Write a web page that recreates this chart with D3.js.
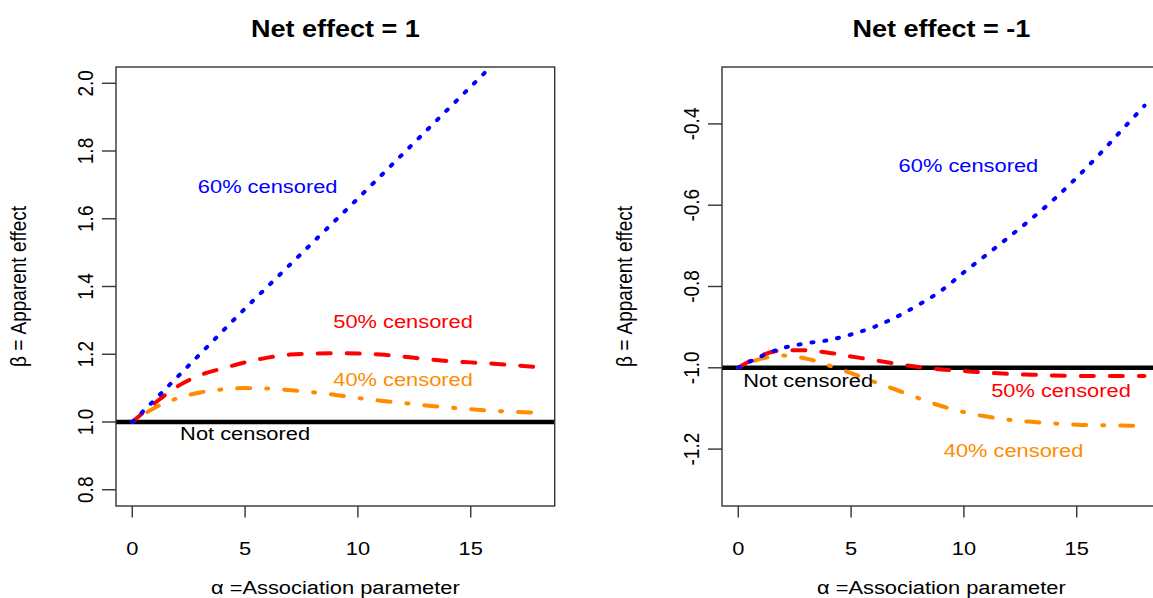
<!DOCTYPE html>
<html>
<head>
<meta charset="utf-8">
<script src="https://cdn.jsdelivr.net/npm/d3@7"></script>
<style>
  html, body { margin: 0; padding: 0; background: #fff; }
  text { font-family: "Liberation Sans", Arial, sans-serif; }
</style>
</head>
<body>
<svg id="chart" width="1153" height="598"></svg>
<script>
// Data
const alpha = [0, 1, 2, 3, 4, 5, 6, 7, 8, 9, 10, 11, 12, 13, 14, 15, 16, 17, 18];

// Net effect = 1
const pos60 = [1.0, 1.066, 1.133, 1.2, 1.268, 1.335, 1.4, 1.465, 1.53, 1.595, 1.66, 1.726, 1.792, 1.858, 1.924, 1.99, 2.056, 2.122, 2.188];
const pos50 = [1.0, 1.056, 1.105, 1.138, 1.158, 1.176, 1.19, 1.199, 1.202, 1.203, 1.202, 1.199, 1.193, 1.186, 1.18, 1.176, 1.172, 1.167, 1.162];
const pos40 = [1.0, 1.042, 1.07, 1.087, 1.096, 1.1, 1.099, 1.094, 1.088, 1.08, 1.071, 1.063, 1.056, 1.049, 1.043, 1.038, 1.033, 1.03, 1.027];

// Net effect = -1
const neg60 = [-1.0, -0.972, -0.951, -0.94, -0.932, -0.918, -0.9, -0.875, -0.845, -0.81, -0.765, -0.722, -0.678, -0.633, -0.585, -0.532, -0.475, -0.415, -0.355];
const neg50 = [-1.0, -0.97, -0.957, -0.957, -0.963, -0.972, -0.981, -0.99, -0.998, -1.004, -1.008, -1.012, -1.015, -1.017, -1.019, -1.02, -1.02, -1.02, -1.02];
const neg40 = [-1.0, -0.978, -0.97, -0.977, -0.994, -1.013, -1.034, -1.054, -1.075, -1.094, -1.109, -1.12, -1.128, -1.133, -1.137, -1.14, -1.141, -1.142, -1.143];

const xTicks = [0, 5, 10, 15];
const posTicks = [0.8, 1.0, 1.2, 1.4, 1.6, 1.8, 2.0];
const negTicks = [-1.2, -1.0, -0.8, -0.6, -0.4];

// label positions in data units [alpha, beta]
const posLabels = [
    { text: "60% censored", at: [6.0, 1.697], color: "blue" },
    { text: "50% censored", at: [12.0, 1.298], color: "red" },
    { text: "40% censored", at: [12.0, 1.125], color: "darkorange" },
    { text: "Not censored", at: [5.0, 0.966], color: "black" }
];
const negLabels = [
    { text: "60% censored", at: [10.2, -0.501], color: "blue" },
    { text: "Not censored", at: [3.1, -1.032], color: "black" },
    { text: "50% censored", at: [14.3, -1.055], color: "red" },
    { text: "40% censored", at: [12.2, -1.202], color: "darkorange" }
];

// Layout
const BOX_TOP = 67;
const BOX_BOTTOM = 506;
const BOX_WIDTH = 438.7;
const SX = 1.15;          // the source image is stretched horizontally
const FONT = 19;

const svg = d3.select("#chart");

// text helper, stretched horizontally like the source
function label(g, x, y, str, opts = {}) {
    const rot = opts.rotate || 0;
    return g.append("text")
        .attr("transform", `translate(${x},${y}) scale(${SX},1) rotate(${rot})`)
        .attr("text-anchor", opts.anchor || "middle")
        .attr("dy", opts.dy || "0.35em")
        .attr("font-size", opts.size || FONT)
        .attr("font-weight", opts.weight || "normal")
        .attr("fill", opts.color || "black")
        .text(str);
}

function drawPanel(cfg) {
    const g = svg.append("g");
    const x = d3.scaleLinear().domain([-0.72, 18.72]).range([cfg.left, cfg.left + BOX_WIDTH]);
    const span = cfg.ylim[1] - cfg.ylim[0];
    const y = d3.scaleLinear()
        .domain([cfg.ylim[0] - 0.04 * span, cfg.ylim[1] + 0.04 * span])
        .range([BOX_BOTTOM, BOX_TOP]);

    // clip lines to the plot region
    g.append("clipPath").attr("id", cfg.id)
        .append("rect")
        .attr("x", x.range()[0]).attr("y", BOX_TOP)
        .attr("width", BOX_WIDTH).attr("height", BOX_BOTTOM - BOX_TOP);

    const plot = g.append("g").attr("clip-path", `url(#${cfg.id})`);

    // reference line (not censored)
    plot.append("line")
        .attr("x1", x.range()[0]).attr("x2", x.range()[1])
        .attr("y1", y(cfg.ref)).attr("y2", y(cfg.ref))
        .attr("stroke", "black").attr("stroke-width", 4.5);

    const line = d3.line()
        .x((d, i) => x(alpha[i]))
        .y(d => y(d))
        .curve(d3.curveMonotoneX);

    const series = [
        { values: cfg.s40, color: "darkorange", dash: "2,16,13,16" },
        { values: cfg.s50, color: "red", dash: "13,16" },
        { values: cfg.s60, color: "blue", dash: "2,11" }
    ];
    series.forEach(s => {
        plot.append("path")
            .datum(s.values)
            .attr("d", line)
            .attr("fill", "none")
            .attr("stroke", s.color)
            .attr("stroke-width", 4)
            .attr("stroke-linecap", "round")
            .attr("stroke-dasharray", s.dash);
    });

    // box
    g.append("rect")
        .attr("x", x.range()[0]).attr("y", BOX_TOP)
        .attr("width", BOX_WIDTH).attr("height", BOX_BOTTOM - BOX_TOP)
        .attr("fill", "none").attr("stroke", "#333").attr("stroke-width", 1.4);

    // x ticks
    xTicks.forEach(t => {
        g.append("line")
            .attr("x1", x(t)).attr("x2", x(t))
            .attr("y1", BOX_BOTTOM).attr("y2", BOX_BOTTOM + 11.5)
            .attr("stroke", "#333").attr("stroke-width", 1.4);
        label(g, x(t), 548, String(t), { dy: 0 });
    });

    // y ticks, labels rotated
    const left = x.range()[0];
    cfg.yTicks.forEach(t => {
        g.append("line")
            .attr("x1", left - 14).attr("x2", left)
            .attr("y1", y(t)).attr("y2", y(t))
            .attr("stroke", "#333").attr("stroke-width", 1.4);
        label(g, left - 31, y(t), d3.format(".1f")(t).replace("−", "-"), { rotate: -90, dy: 0 });
    });

    // titles
    const mid = left + BOX_WIDTH / 2;
    label(g, mid, 29, cfg.title, { size: 23.5, weight: "bold", dy: 0 });
    label(g, mid, 587, "\u03B1 =Association parameter", { dy: 0 });
    label(g, left - 97.5, (BOX_TOP + BOX_BOTTOM) / 2, "\u03B2 = Apparent effect", { rotate: -90 });

    // curve annotations
    cfg.labels.forEach(l => {
        label(g, x(l.at[0]), y(l.at[1]), l.text, { color: l.color });
    });
}

drawPanel({
    id: "clip-pos", left: 116, ylim: [0.8, 2.0], ref: 1.0,
    s60: pos60, s50: pos50, s40: pos40,
    yTicks: posTicks, labels: posLabels, title: "Net effect = 1"
});

drawPanel({
    id: "clip-neg", left: 722, ylim: [-1.3, -0.3], ref: -1.0,
    s60: neg60, s50: neg50, s40: neg40,
    yTicks: negTicks, labels: negLabels, title: "Net effect = -1"
});
</script>
</body>
</html>
